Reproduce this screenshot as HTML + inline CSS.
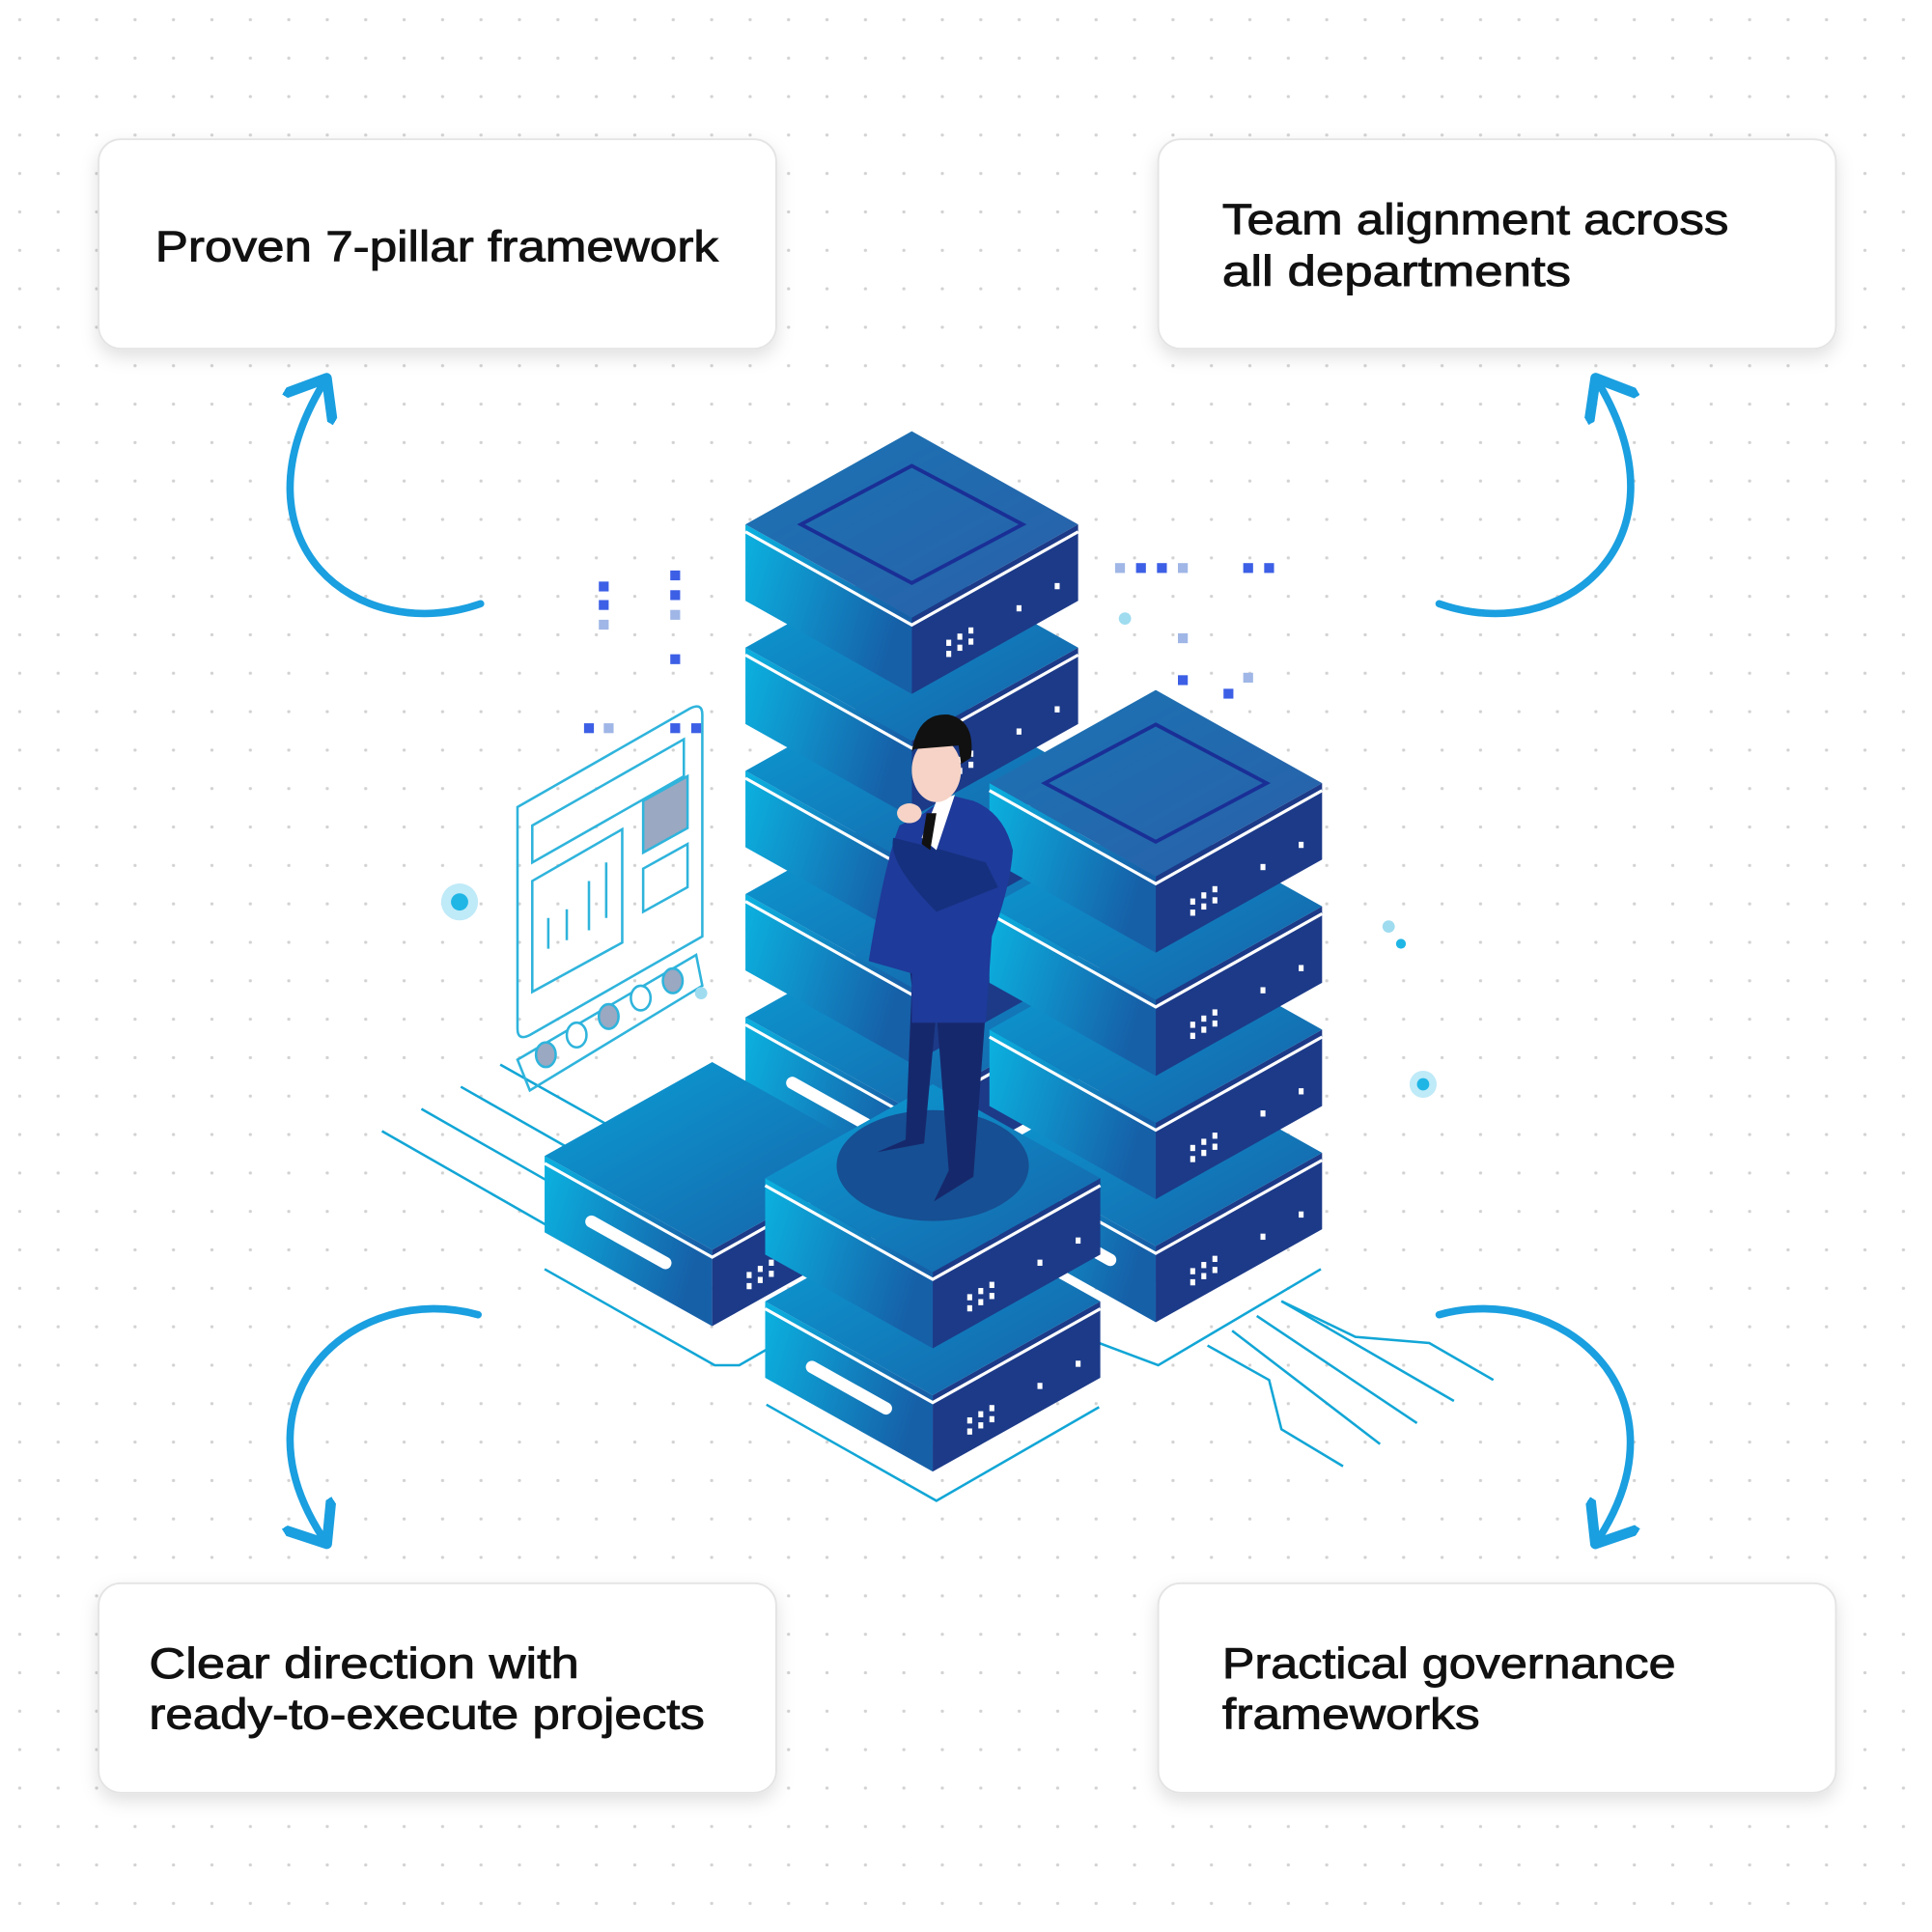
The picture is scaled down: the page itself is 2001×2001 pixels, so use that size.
<!DOCTYPE html>
<html><head><meta charset="utf-8"><style>
html,body{margin:0;padding:0;background:#fff;}
svg{display:block;}
text{font-family:"Liberation Sans",sans-serif;font-weight:normal;fill:#111;font-size:35px;stroke:#111;stroke-width:0.7px;}
</style></head><body>
<svg id="s" width="2001" height="2001" viewBox="0 0 1568 1568" xmlns="http://www.w3.org/2000/svg">
<defs>
<pattern id="dots" x="0" y="0" width="31.2" height="31.2" patternUnits="userSpaceOnUse">
<circle cx="16" cy="16" r="1.3" fill="#d2d2d2"/></pattern>
<linearGradient id="lf" x1="0" y1="0" x2="1" y2="0.3"><stop offset="0" stop-color="#0bb2e0"/><stop offset="1" stop-color="#1660a8"/></linearGradient>
<linearGradient id="tp" x1="0" y1="0" x2="1" y2="1"><stop offset="0" stop-color="#1a74b4"/><stop offset="1" stop-color="#2a5fa8"/></linearGradient>
<linearGradient id="tp2" x1="0" y1="0" x2="1" y2="1"><stop offset="0" stop-color="#0a9fd6"/><stop offset="1" stop-color="#1760a6"/></linearGradient>
<filter id="sh" x="-10%" y="-20%" width="120%" height="150%"><feDropShadow dx="0" dy="6" stdDeviation="7" flood-color="#000" flood-opacity="0.12"/></filter>
<marker id="ah" markerWidth="8" markerHeight="8" refX="4" refY="4" orient="auto" markerUnits="strokeWidth">
<path d="M0,0 L5,4 L0,8" fill="none" stroke="#1a9fe0" stroke-width="1.4" stroke-linecap="round" stroke-linejoin="round"/></marker>
</defs>
<rect width="1568" height="1568" fill="url(#dots)"/>
<g id="art"></g>
<g fill="none" stroke="#1a9fe0" stroke-width="6" stroke-linecap="round">
<path d="M390,490 C290,525 185,440 262,312" marker-end="url(#ah)"/>
<path d="M1168,490 C1268,525 1373,440 1298,312" marker-end="url(#ah)"/>
<path d="M388,1067 C290,1040 185,1130 262,1248" marker-end="url(#ah)"/>
<path d="M1168,1067 C1266,1040 1373,1130 1298,1248" marker-end="url(#ah)"/>
</g>
<g filter="url(#sh)" fill="#fff" stroke="#e4e4e4" stroke-width="1.5">
<rect x="80" y="113" width="550" height="170" rx="18"/>
<rect x="940" y="113" width="550" height="170" rx="18"/>
<rect x="80" y="1285" width="550" height="170" rx="18"/>
<rect x="940" y="1285" width="550" height="170" rx="18"/>
</g>
<text x="126" y="212" textLength="457" lengthAdjust="spacingAndGlyphs">Proven 7-pillar framework</text>
<text x="992" y="190" textLength="411" lengthAdjust="spacingAndGlyphs">Team alignment across</text>
<text x="992" y="232" textLength="283" lengthAdjust="spacingAndGlyphs">all departments</text>
<text x="121" y="1362" textLength="349" lengthAdjust="spacingAndGlyphs">Clear direction with</text>
<text x="121" y="1403" textLength="451" lengthAdjust="spacingAndGlyphs">ready-to-execute projects</text>
<text x="992" y="1362" textLength="368" lengthAdjust="spacingAndGlyphs">Practical governance</text>
<text x="992" y="1403" textLength="209" lengthAdjust="spacingAndGlyphs">frameworks</text>
</svg>
<script>
var g=document.getElementById('art'),h='';
h+='<g fill="none" stroke="#12a6d6" stroke-width="2">';
h+='<path d="M310,918 L450,998"/><path d="M342,900 L470,973"/><path d="M374,882 L490,948"/><path d="M406,864 L520,928"/>';
h+='<path d="M980,1092 L1030,1120 L1040,1160 L1090,1190"/><path d="M1000,1080 L1120,1172"/><path d="M1020,1068 L1150,1155"/><path d="M1040,1056 L1180,1137"/><path d="M1040,1056 L1100,1085 L1160,1090 L1212,1120"/>';
h+='<path d="M442,1030 L580,1108 L600,1108 L640,1085"/><path d="M622,1140 L760,1218 L892,1142"/><path d="M892,1090 L940,1108 L1072,1030"/>';
h+='</g>';
h+='<g fill="none" stroke="#2fb4dc" stroke-width="2"><path d="M420,655 L560,575 Q570,570 570,580 L570,760 L430,840 Q420,845 420,835 Z"/>';
h+='<path d="M432,670 L555,600 L555,630 L432,700 Z"/><path d="M432,715 L505,673 L505,765 L432,805 Z"/><path d="M445,745 v25 M460,738 v25 M478,715 v40 M492,700 v45"/>';
h+='<path d="M522,650 L558,630 L558,672 L522,692 Z" fill="#9aa8c2"/><path d="M522,705 L558,685 L558,720 L522,740 Z"/>';
h+='<path d="M420,860 L565,775 L570,800 L430,885 Z"/></g>';
[[443,856,1],[468,840,0],[494,825,1],[520,810,0],[546,796,1]].forEach(function(c){h+='<ellipse cx="'+c[0]+'" cy="'+c[1]+'" rx="8" ry="10" fill="'+(c[2]?'#9aa8c2':'#fff')+'" stroke="#2fb4dc" stroke-width="2"/>';});
[[490,476],[490,491],[490,507],[548,467],[548,483],[548,499],[548,535],[478,591],[494,591],[548,591],[565,591],[909,461],[926,461],[943,461],[960,461],[1013,461],[1030,461],[960,518],[960,552],[997,563],[1013,550]].forEach(function(p,i){h+='<rect x="'+(p[0]-4)+'" y="'+(p[1]-4)+'" width="8" height="8" fill="'+(i%3==2?'#9fb6e6':'#3c5fe6')+'"/>';});
h+='<circle cx="373" cy="732" r="15" fill="#bfeaf8"/><circle cx="373" cy="732" r="7" fill="#1fb6e6"/>';
h+='<circle cx="1155" cy="880" r="11" fill="#bfeaf8"/><circle cx="1155" cy="880" r="5" fill="#1fb6e6"/>';
h+='<circle cx="913" cy="502" r="5" fill="#9fdcef"/><circle cx="1127" cy="752" r="5" fill="#9fdcef"/><circle cx="1137" cy="766" r="4" fill="#1fb6e6"/><circle cx="569" cy="806" r="5" fill="#9fdcef"/>';
function unit(cx,ty,w,top,slot){
 var a=w/2,b=w*0.28,t=62,s='',r=b/a;
 s+='<path d="M'+(cx-a)+','+(ty+b)+' L'+cx+','+(ty+2*b)+' L'+cx+','+(ty+2*b+t)+' L'+(cx-a)+','+(ty+b+t)+' Z" fill="url(#lf)"/>';
 s+='<path d="M'+(cx+a)+','+(ty+b)+' L'+cx+','+(ty+2*b)+' L'+cx+','+(ty+2*b+t)+' L'+(cx+a)+','+(ty+b+t)+' Z" fill="#1c3a88"/>';
 s+='<path d="M'+cx+','+ty+' L'+(cx+a)+','+(ty+b)+' L'+cx+','+(ty+2*b)+' L'+(cx-a)+','+(ty+b)+' Z" fill="'+(top?'url(#tp)':'url(#tp2)')+'"/>';
 s+='<path d="M'+(cx-a)+','+(ty+b+6)+' L'+cx+','+(ty+2*b+6)+' L'+(cx+a)+','+(ty+b+6)+'" fill="none" stroke="#fff" stroke-width="2.5"/>';
 if(top) s+='<path d="M'+cx+','+(ty+28)+' L'+(cx+a-45)+','+(ty+b)+' L'+cx+','+(ty+2*b-28)+' L'+(cx-a+45)+','+(ty+b)+' Z" fill="none" stroke="#1a2f96" stroke-width="3"/>';
 for(var i=0;i<3;i++)for(var j=0;j<2;j++) s+='<rect x="'+(cx+28+i*9)+'" y="'+(ty+2*b+18-i*5+j*9)+'" width="4" height="5" fill="#fff"/>';
 s+='<rect x="'+(cx+85)+'" y="'+(ty+2*b-10)+'" width="4" height="5" fill="#fff"/><rect x="'+(cx+116)+'" y="'+(ty+2*b-28)+'" width="4" height="5" fill="#fff"/>';
 if(slot) s+='<path d="M'+(cx-a+38)+','+(ty+b+38*r+32)+' L'+(cx-a+98)+','+(ty+b+98*r+32)+'" stroke="#fff" stroke-width="10" stroke-linecap="round"/>';
 return s;
}
for(var k=4;k>=0;k--) h+=unit(740,350+k*100,270,k==0,k==4);
for(var k=3;k>=0;k--) h+=unit(938,560+k*100,270,k==0,k==3);
h+=unit(578,862,272,false,true);
h+=unit(757,980,272,false,true);
h+=unit(757,880,272,false,false);
h+='<ellipse cx="757" cy="946" rx="78" ry="45" fill="#164f93"/>';
h+='<g><path d="M740,800 L735,925 L712,935 L750,928 L760,820 L770,950 L758,975 L790,955 L800,820 L800,760 L735,760 Z" fill="#16286c"/>';
h+='<path d="M730,670 Q718,700 705,780 L740,790 L740,830 L800,830 L805,760 Q820,720 822,690 Q815,660 790,650 L770,645 L750,660 Z" fill="#1e3a9a"/>';
h+='<path d="M725,680 Q720,700 760,740 L810,720 L800,700 L765,690 Z" fill="#15307e"/>';
h+='<path d="M760,650 L775,645 L760,690 L748,680 Z" fill="#fff"/><path d="M752,660 L760,660 L755,690 L748,685 Z" fill="#111"/>';
h+='<ellipse cx="760" cy="625" rx="20" ry="26" fill="#f6d3c6"/><path d="M740,610 Q745,578 770,580 Q792,585 788,615 L780,620 L778,605 L742,608 Z" fill="#111"/>';
h+='<ellipse cx="738" cy="660" rx="10" ry="8" fill="#f6d3c6"/></g>';
g.innerHTML=h;
</script>
</body></html>
